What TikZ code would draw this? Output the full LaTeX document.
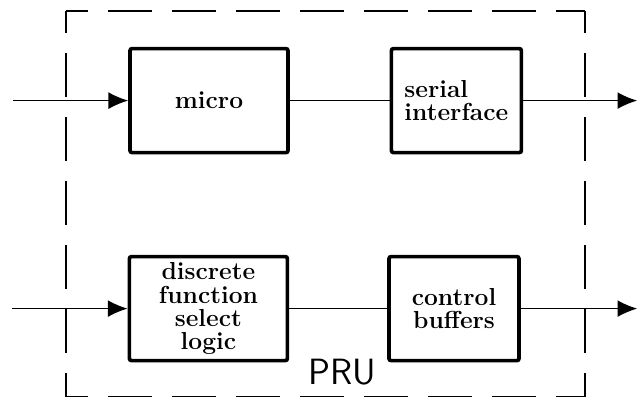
\documentclass[tikz,border=0pt]{standalone}
\usetikzlibrary{arrows.meta}

\tikzset{
  block/.style={draw, line width=2.6pt, rounded corners=1.5pt, align=center,
    font=\bfseries\fontsize{17.5}{16.5}\selectfont, minimum height=2.6cm, inner sep=2pt},
  wideblock/.style={block, minimum width=3.95cm},
  slimblock/.style={block, minimum width=3.25cm},
  link/.style={line width=1pt},
  signal/.style={link, -{Latex[length=14pt,width=12pt]}},
  boundary/.style={line width=1.2pt, dash pattern=on 1.1cm off 0.5cm, dash phase=0.55cm}
}

\begin{document}
\begin{tikzpicture}
  \useasboundingbox (0,0) rectangle (16.1,9.975);
  % unit boundary
  \coordinate (tl) at (1.65,9.7);
  \coordinate (tr) at (14.625,9.7);
  \coordinate (bl) at (1.65,0.06);
  \coordinate (br) at (14.625,0.06);
  \draw[boundary] (tl) -- (tr);
  \draw[boundary] (tl) -- (bl);
  \draw[boundary] (tr) -- (br);
  \draw[boundary] (bl) -- (br);
  \node[font=\sffamily\fontsize{26}{30}\selectfont] (pru) at (8.55,0.68) {PRU};
  % blocks
  \node[wideblock] (micro) at (5.225,7.46) {micro};
  \node[slimblock, align=left] (serial) at (11.41,7.46) {serial\\interface};
  \node[wideblock] (dfsl) at (5.21,2.26) {discrete\\function\\select\\logic};
  \node[slimblock] (ctrl) at (11.35,2.26) {control\\buffers};
  % signal ends
  \coordinate (in1) at (0.32,7.46);
  \coordinate (in2) at (0.3,2.26);
  \coordinate (out1) at (15.93,7.46);
  \coordinate (out2) at (15.93,2.26);
  \draw[signal] (in1) -- (micro);
  \draw[link] (micro) -- (serial);
  \draw[signal] (serial) -- (out1);
  \draw[signal] (in2) -- (dfsl);
  \draw[link] (dfsl) -- (ctrl);
  \draw[signal] (ctrl) -- (out2);
\end{tikzpicture}
\end{document}
